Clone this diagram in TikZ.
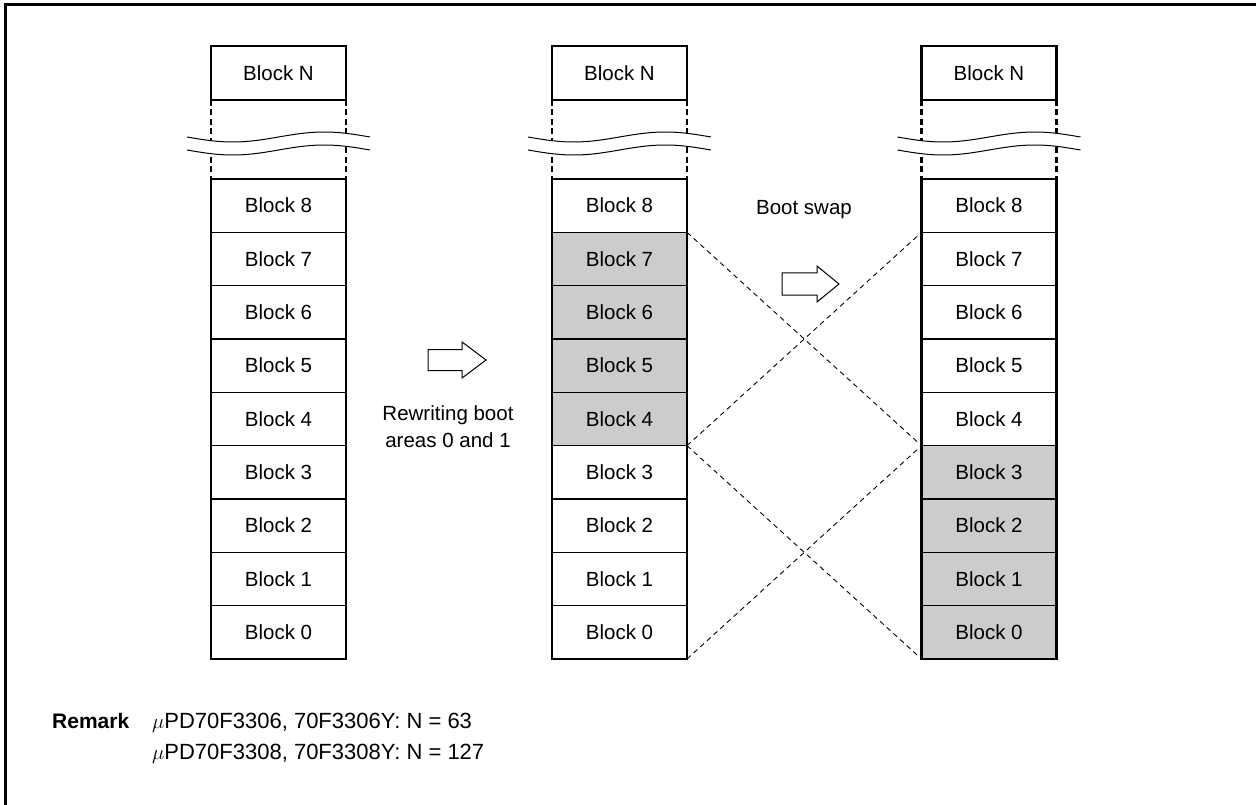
\documentclass[tikz,border=0pt]{standalone}
\usepackage{fontspec}
\setmainfont{Liberation Sans}
\begin{document}
\begin{tikzpicture}[x=1pt,y=-1pt,
  cell/.style={draw, line width=1.1pt, minimum width=135pt, minimum height=53.33pt,
    inner sep=0pt, outer sep=0pt, font=\fontsize{20.5}{24}\selectfont},
  topcell/.style={cell, minimum height=54pt},
  shaded/.style={fill=black!20},
  outline/.style={line width=2.4pt},
  cross/.style={dashed, dash pattern=on 5pt off 4pt, line width=0.9pt},
  brk/.style={line width=2.4pt, dash pattern=on 6pt off 3.5pt},
  lbl/.style={font=\fontsize{20.5}{27}\selectfont, align=center, inner sep=0pt},
  remtxt/.style={font=\fontsize{22}{27}\selectfont, align=left, inner sep=0pt},
  fatarrow/.style={draw, line width=1pt, fill=white}
]
\useasboundingbox (0,0) rectangle (1256,805);
% frame
\draw[line width=3pt] (5,806) -- (5,5) -- (1257,5);

% columns
\foreach \col/\cx in {a/278.5, b/619.5, c/989}{
  \node[topcell] (\col N) at (\cx,73) {Block N};
  \foreach \i in {0,...,8}{
    \node[cell] (\col\i) at (\cx,{179+(8-\i)*53.333+26.667}) {Block \i};
  }
}
% shaded cells
\foreach \i in {4,...,7}{
  \node[cell, shaded] (bs\i) at (b\i) {Block \i};
}
\foreach \i in {0,...,3}{
  \node[cell, shaded] (cs\i) at (c\i) {Block \i};
}

% outlines and breaks
\foreach \col in {a,b,c}{
  \draw[outline] (\col N.south west) |- (\col N.north east) -- (\col N.south east);
  \draw[outline] (\col 8.north west) rectangle (\col 0.south east);
  \draw[brk] (\col N.south west) -- (\col 8.north west);
  \draw[brk] (\col N.south east) -- (\col 8.north east);
}
% wavy break lines
\foreach \col/\L in {a/211, b/552, c/921.5}{
  \fill[white] plot[domain=0:1, samples=40, smooth] ({\L-24+183*\x},{137+5*sin(360*\x)})
     -- plot[domain=1:0, samples=40, smooth] ({\L-24+183*\x},{150+5*sin(360*\x)}) -- cycle;
  \draw[line width=1pt] plot[domain=0:1, samples=40, smooth] ({\L-24+183*\x},{137+5*sin(360*\x)});
  \draw[line width=1pt] plot[domain=0:1, samples=40, smooth] ({\L-24+183*\x},{150+5*sin(360*\x)});
}

% crossing dashed lines
\draw[cross] (bs7.north east) -- (cs3.north west);
\draw[cross] (bs4.south east) -- (c8.south west);
\draw[cross] (bs4.south east) -- (cs0.south west);
\draw[cross] (b0.south east) -- (cs3.north west);

% arrows
\draw[fatarrow] (428,349.5) -- (462,349.5) -- (462,342) -- (486,360) -- (462,378) -- (462,370.5) -- (428,370.5) -- cycle;
\draw[fatarrow] (782,273) -- (817,273) -- (817,266) -- (839,284) -- (817,302) -- (817,295) -- (782,295) -- cycle;

% labels
\node[lbl, anchor=base] (rw) at (448,447) {Rewriting boot\\areas 0 and 1};
\node[lbl, anchor=base] (bsw) at (804,215) {Boot swap};

% remark
\node[remtxt, anchor=base west, font=\fontsize{21}{27}\selectfont\bfseries] (rem) at (52,728) {Remark};
\node[remtxt, anchor=base west] (r1) at (152,728) {$\mu$PD70F3306, 70F3306Y: N = 63};
\node[remtxt, anchor=base west] (r2) at (152,759) {$\mu$PD70F3308, 70F3308Y: N = 127};
\end{tikzpicture}
\end{document}
